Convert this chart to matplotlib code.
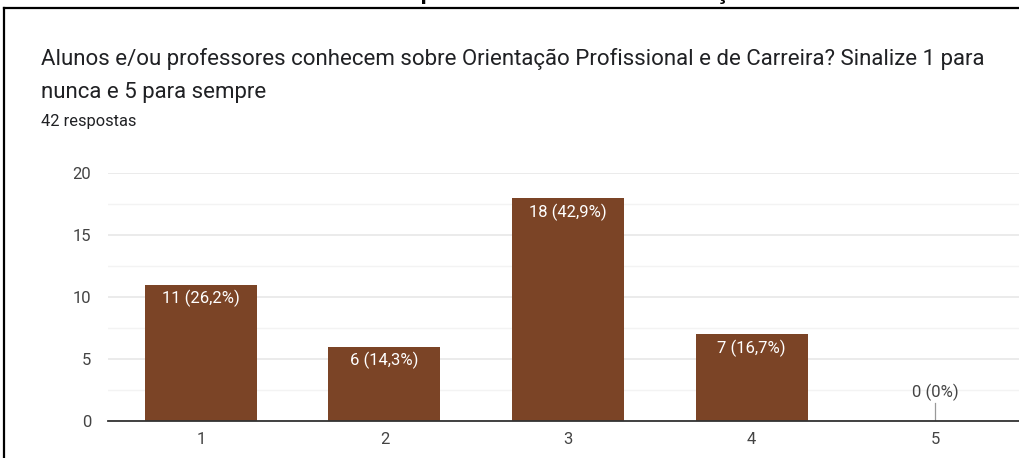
import matplotlib
matplotlib.use('Agg')
import matplotlib.pyplot as plt
from matplotlib.lines import Line2D
from matplotlib.ticker import MultipleLocator
from matplotlib.transforms import Bbox

# dados do gráfico (Google Forms)
categorias = ['1', '2', '3', '4', '5']
respostas = [11, 6, 18, 7, 0]
rotulos = ['11 (26,2%)', '6 (14,3%)', '18 (42,9%)', '7 (16,7%)', '0 (0%)']
titulo_1 = 'Alunos e/ou professores conhecem sobre Orientação Profissional e de Carreira? Sinalize 1 para'
titulo_2 = 'nunca e 5 para sempre'
subtitulo = '42 respostas'
legenda_topo = ('Gráfico 5 – Conhecimento de alunos e professores sobre Orientação '
                'Profissional e de Carreira nas escolas')

plt.rcParams['font.family'] = ['Roboto', 'DejaVu Sans']
cor_barra = '#7b4426'
cor_texto = '#202124'

W, H = 1019, 458
fig = plt.figure(figsize=(W / 100, H / 100), dpi=100)

# legenda cortada no topo do recorte (só o pé das letras aparece)
cap = fig.text(-0.016, 1 + 18.5 / H, legenda_topo, fontsize=17, fontweight='bold', color='black',
               family='Liberation Sans', ha='left', va='top')
cap.set_clip_box(Bbox([[0, H - 6], [W, H]]))
cap.set_clip_on(True)

# moldura do print (topo e esquerda)
fig.add_artist(Line2D([4 / W, 1], [1 - 8 / H, 1 - 8 / H], color='black', lw=1.6))
fig.add_artist(Line2D([4 / W, 4 / W], [0, 1 - 8 / H], color='black', lw=1.6))

fig.text(41 / W, 1 - 65 / H, titulo_1, fontsize=16, color=cor_texto,
         ha='left', va='baseline')
fig.text(41 / W, 1 - 98 / H, titulo_2, fontsize=16, color=cor_texto,
         ha='left', va='baseline')
fig.text(41 / W, 1 - 126 / H, subtitulo, fontsize=11.8, color=cor_texto,
         ha='left', va='baseline')

ax = fig.add_axes([108 / W, 1 - 421 / H, 920 / W, 248 / H])
x = list(range(1, len(categorias) + 1))
ax.bar(x, respostas, width=0.61, color=cor_barra, zorder=3)
ax.set_xlim(0.494, 5.506)
ax.set_ylim(0, 20)
ax.set_xticks(x)
ax.set_xticklabels(categorias)
ax.yaxis.set_major_locator(MultipleLocator(5))
ax.yaxis.set_minor_locator(MultipleLocator(2.5))
ax.grid(axis='y', which='major', color='#e8e8e8', lw=1.2, zorder=0)
ax.grid(axis='y', which='minor', color='#f3f3f3', lw=1.0, zorder=0)
for s in ['top', 'right', 'left']:
    ax.spines[s].set_visible(False)
ax.spines['bottom'].set_color('#333333')
ax.spines['bottom'].set_linewidth(1.3)
ax.spines['bottom'].set_zorder(4)
ax.tick_params(axis='both', which='both', length=0, labelsize=12, colors='#444444', pad=12)
ax.tick_params(axis='x', pad=8)

for xi, v, r in zip(x, respostas, rotulos):
    if v > 0:
        ax.annotate(r, (xi, v), xytext=(0, -4), textcoords='offset points',
                    ha='center', va='top', color='white', fontsize=12, zorder=5)
    else:
        ax.plot([xi, xi], [0, 1.45], color='#999999', lw=0.9, zorder=4)
        ax.annotate(r, (xi, 1.6), ha='center', va='bottom', color='#444444',
                    fontsize=12, zorder=5)

fig.savefig('out.png', dpi=100)
